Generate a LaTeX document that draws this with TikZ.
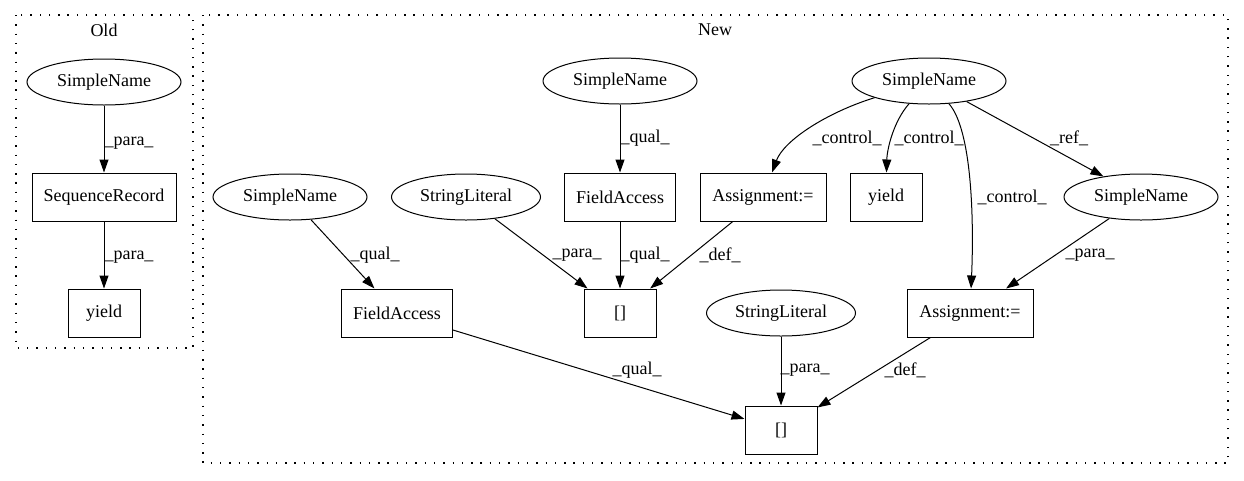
\documentclass[tikz,border=0pt]{standalone}
\usepackage{fontspec}
\setmainfont{Liberation Serif}
\usetikzlibrary{arrows.meta, shapes.geometric}

\begin{document}
\begin{tikzpicture}[x=1pt, y=-1pt,
    every node/.style={font=\fontsize{18}{21}\selectfont},
    leaf/.style={ellipse, draw, line width=1pt, minimum height=46pt, inner sep=0pt},
    stmt/.style={rectangle, draw, line width=1pt, minimum height=48pt, inner sep=0pt},
    flow/.style={-{Triangle[length=13pt, width=9pt]}, line width=1pt},
    cluster/.style={line width=1.3pt, dash pattern=on 1.4pt off 7.9pt}]
    \useasboundingbox (0,0) rectangle (1244,480);

    % Old cluster
    \draw[cluster] (16,15) rectangle (193,348);
    \node (oldlbl) at (104,30) {Old};
    \node[leaf, minimum width=154pt] (osn) at (104,82) {SimpleName};
    \node[stmt, minimum width=144pt] (oseq) at (104,197) {SequenceRecord};
    \node[stmt, minimum width=72pt] (oyield) at (104,313) {yield};
    \draw[flow] (osn) -- (oseq);
    \draw[flow] (oseq) -- (oyield);

    % New cluster
    \draw[cluster] (203,15) rectangle (1228,463);
    \node (newlbl) at (715,30) {New};
    \node[leaf, minimum width=154pt] (sna) at (620,81) {SimpleName};
    \node[leaf, minimum width=154pt] (snb) at (929,81) {SimpleName};
    \node[leaf, minimum width=154pt] (snc) at (290,197) {SimpleName};
    \node[leaf, minimum width=149pt] (sla) at (466,197) {StringLiteral};
    \node[stmt, minimum width=111pt] (fa) at (620,197) {FieldAccess};
    \node[stmt, minimum width=126pt] (asa) at (763,197) {Assignment:=};
    \node[stmt, minimum width=72pt] (nyield) at (886,197) {yield};
    \node[leaf, minimum width=154pt] (snd) at (1141,197) {SimpleName};
    \node[stmt, minimum width=111pt] (fb) at (397,313) {FieldAccess};
    \node[stmt, minimum width=72pt] (ixa) at (620,313) {[]};
    \node[leaf, minimum width=149pt] (slb) at (781,313) {StringLiteral};
    \node[stmt, minimum width=126pt] (asb) at (970,313) {Assignment:=};
    \node[stmt, minimum width=72pt] (ixb) at (781,430) {[]};

    \draw[flow] (sna) -- (fa);
    \draw[flow] (snc) -- (fb);
    \draw[flow] (sla) -- (ixa);
    \draw[flow] (fa) -- (ixa);
    \draw[flow] (asa) -- (ixa);
    \draw[flow] (fb) -- (ixb);
    \draw[flow] (slb) -- (ixb);
    \draw[flow] (asb) -- (ixb);
    \draw[flow] (snb) -- (snd);
    \draw[flow] (snd) -- (asb);
    \draw[flow] (snb) .. controls (828,112) and (784,140) .. (asa);
    \draw[flow] (snb) .. controls (893,122) and (887,150) .. (nyield);
    \draw[flow] (snb) .. controls (972,130) and (974,220) .. (asb);

    % edge labels
    \foreach \x/\y/\t/\n in {129/143/\_para\_/la, 129/257/\_para\_/lb,
        645/138/\_qual\_/lc, 375/255/\_qual\_/ld, 577/255/\_para\_/le,
        645/255/\_qual\_/lf, 720/255/\_def\_/lg, 847/138/\_control\_/lh,
        929/138/\_control\_/li, 1069/138/\_ref\_/lj, 1012/197/\_control\_/lk,
        1090/255/\_para\_/ll, 637/370/\_qual\_/lm, 805/370/\_para\_/ln,
        905/370/\_def\_/lo} {
        \node (\n) at (\x,\y) {\t};
    }
\end{tikzpicture}
\end{document}
